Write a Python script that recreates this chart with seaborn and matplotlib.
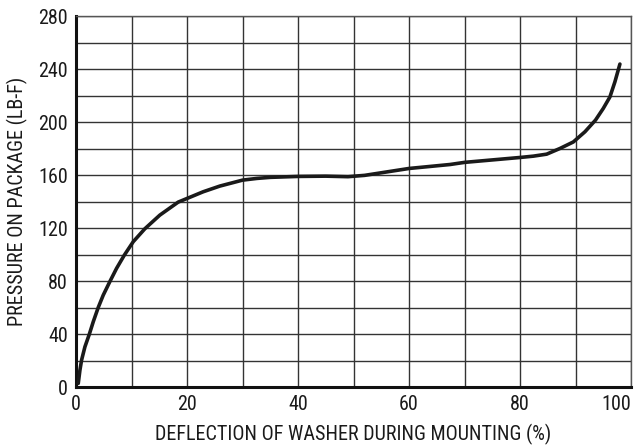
import pandas as pd
import matplotlib
matplotlib.use('Agg')
import matplotlib.pyplot as plt
import seaborn as sns
from matplotlib.ticker import MultipleLocator

# curve
deflection = [0.4, 0.7, 1.0, 1.6, 2.4, 3.1, 4.0, 4.9, 6.1, 7.3, 8.7, 10.3, 12.4, 15.1,
              18.4, 22.9, 25.9, 30.0, 32.6, 35, 40, 45, 49, 52, 60, 67.4, 70, 80,
              82.4, 84.8, 87.2, 89.6, 91.7, 93.6, 95.0, 96.2, 97.1, 98.0]
pressure = [2.8, 12.8, 20.4, 30.4, 40, 49.3, 60.1, 69.4, 79.7, 89.6, 99.6, 109.7, 119.5,
            129.8, 139.6, 147.4, 151.7, 156.2, 157.5, 158.3, 159, 159.2, 158.8, 159.8,
            165, 168, 169.6, 173.3, 174.3, 175.8, 180.1, 185, 192.7, 201.5, 210.3, 219,
            230.4, 243.8]

x_ticks = [0, 20, 40, 60, 80, 100]
y_ticks = [0, 40, 80, 120, 160, 200, 240, 280]

df = pd.DataFrame({'deflection': deflection, 'pressure': pressure})

sns.set_style('white')
plt.rcParams['font.family'] = ['Liberation Sans Narrow', 'Roboto Condensed',
                               'Liberation Sans', 'DejaVu Sans']

fig = plt.figure(figsize=(6.39, 4.47), dpi=100)
ax = fig.add_axes([0.119, 0.134, 0.8685, 0.830])

sns.lineplot(data=df, x='deflection', y='pressure', color='#1a1a1a', linewidth=2.6,
             ax=ax, zorder=5, sort=False)
ax.lines[0].set_solid_joinstyle('round')
ax.lines[0].set_solid_capstyle('round')

ax.set_xlim(0, 100)
ax.set_ylim(0, 280)
xl = ax.set_xticks(x_ticks, labels=[str(t) for t in x_ticks])
ax.set_yticks(y_ticks, labels=[str(t) for t in y_ticks])
ax.xaxis.set_minor_locator(MultipleLocator(10))
ax.yaxis.set_minor_locator(MultipleLocator(20))
ax.grid(which='both', color='#333333', linewidth=1.0)
ax.tick_params(which='both', length=0, labelsize=14.5, colors='#1a1a1a', pad=6)

# last x label sits inside the frame like in the original
for lab in ax.get_xticklabels():
    if lab.get_text() == '100':
        lab.set_horizontalalignment('right')

for side in ['left', 'bottom']:
    ax.spines[side].set_color('#111111')
    ax.spines[side].set_linewidth(2.2)
for side in ['top', 'right']:
    ax.spines[side].set_color('#555555')
    ax.spines[side].set_linewidth(1.0)

ax.set_xlabel('DEFLECTION OF WASHER DURING MOUNTING (%)', fontsize=14.5, color='#1a1a1a',
              labelpad=7)
ax.set_ylabel('PRESSURE ON PACKAGE (LB-F)', fontsize=14.5, color='#1a1a1a', labelpad=7)

fig.savefig('out.png', dpi=100)
